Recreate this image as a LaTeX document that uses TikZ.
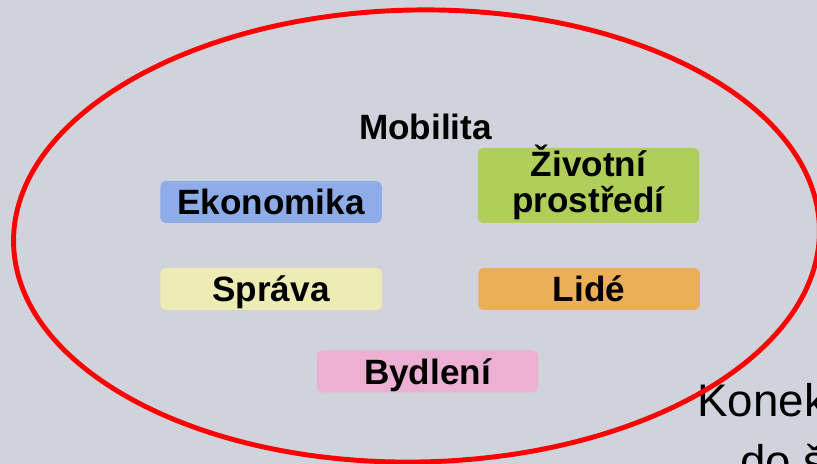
\documentclass[tikz,border=0pt]{standalone}
\usepackage{fontspec}
\setmainfont{Liberation Sans}
\definecolor{bgray}{RGB}{208,211,219}
\definecolor{cekon}{RGB}{142,173,232}
\definecolor{czivot}{RGB}{176,206,90}
\definecolor{csprava}{RGB}{236,236,180}
\definecolor{clide}{RGB}{236,174,88}
\definecolor{cbydl}{RGB}{236,176,210}
\tikzset{
  oblast/.style={rounded corners=3pt, inner sep=0pt, minimum width=4.43cm,
    minimum height=0.84cm, text height=14.3pt, text depth=0pt,
    font=\bfseries\fontsize{20}{20.4}\selectfont},
  popis/.style={inner sep=0pt, font=\fontsize{26}{31}\selectfont}
}
\begin{document}
\begin{tikzpicture}
	\clip (0,0) rectangle (16.34,9.28);
	\fill[bgray] (0,0) rectangle (16.34,9.28);
	% oblasti
	\node[oblast,fill=cekon] (ekon) at (5.42,5.24) {Ekonomika};
	\node[oblast,fill=czivot,minimum height=1.5cm,text height=31pt,align=center] (zivot) at (11.77,5.57) {Životní\\prostředí};
	\node[oblast,fill=csprava] (sprava) at (5.42,3.50) {Správa};
	\node[oblast,fill=clide] (lide) at (11.78,3.50) {Lidé};
	\node[oblast,fill=cbydl] (bydl) at (8.55,1.85) {Bydlení};
	\node[anchor=base,inner sep=0pt,font=\bfseries\fontsize{20}{24}\selectfont] (mobil) at (8.51,6.48) {Mobilita};
	% text vpravo dole
	\node[popis,anchor=base west] (konek) at (13.94,0.94) {Konek};
	\node[popis,anchor=base west] (dosk) at (14.80,-0.28) {do š};
	% elipsa
	\draw[red,line width=2.8pt,rotate around={1:(8.33,4.56)}] (8.33,4.56) ellipse (8.06cm and 4.52cm);
\end{tikzpicture}
\end{document}
